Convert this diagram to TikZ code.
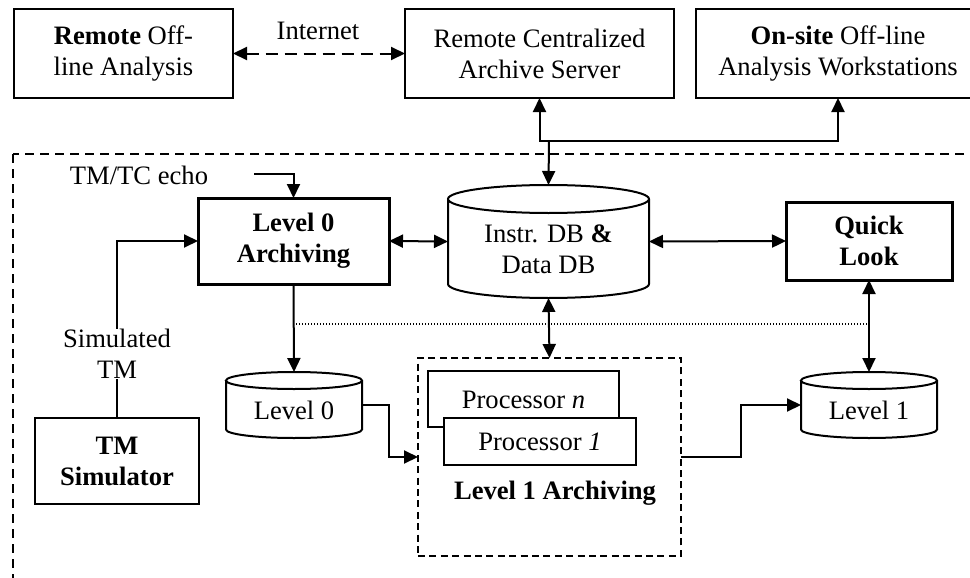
\documentclass[tikz,border=0pt]{standalone}
\usepackage{fontspec}
\setmainfont{Liberation Serif}
\usetikzlibrary{arrows.meta,calc}
\newcommand\drawcyl[3]{%
  \draw[cylline] ([yshift=-#3]#1.north west) -- ([yshift=#3]#1.south west)
    arc[start angle=180,end angle=360,x radius=#2,y radius=#3]
    -- ([yshift=-#3]#1.north east)
    arc[start angle=0,end angle=360,x radius=#2,y radius=#3];}
\newcommand\figfont{\fontsize{13.3}{15.5}\selectfont}
\begin{document}
\begin{tikzpicture}[x=0.5pt,y=-0.5pt,
  font=\figfont,
  box/.style={draw,line width=0.85pt,inner sep=0pt,outer sep=0pt,align=center},
  thickbox/.style={box,line width=1.5pt,font=\figfont\bfseries},
  procbox/.style={draw,line width=0.6pt,fill=white,inner sep=0pt,outer sep=0pt},
  cylnode/.style={inner sep=0pt,outer sep=0pt},
  cylline/.style={line width=1pt},
  txt/.style={inner sep=0pt,align=center},
  arr/.style={line width=1pt,-{Triangle[length=7pt,width=6.5pt]}},
  darr/.style={line width=1pt,{Triangle[length=7pt,width=6.5pt]}-{Triangle[length=7pt,width=6.5pt]}},
  outerdash/.style={line width=0.75pt,dash pattern=on 4.5pt off 3pt},
  innerdash/.style={line width=0.75pt,dash pattern=on 3.5pt off 2.2pt},
  dotline/.style={line width=0.6pt,dash pattern=on 0.6pt off 0.9pt},
]
\useasboundingbox (0,0) rectangle (970,578);
\clip (0,0) rectangle (970,578);

% outer dashed frame (clipped at right and bottom)
\draw[outerdash] (13,154) rectangle (1000,640);

% top row
\node[box,minimum width=109.5pt,minimum height=44.5pt] (remote) at (123.5,53.5)
  {\textbf{Remote} Off-\\line Analysis};
\node[box,minimum width=134.5pt,minimum height=44.5pt] (server) at (539.5,53.5)
  {Remote Centralized\\Archive Server};
\node[box,minimum width=142pt,minimum height=44.5pt] (onsite) at (838,53.5)
  {\textbf{On-site} Off-line\\Analysis Workstations};
\node[txt] (internet) at (318,31) {Internet};

% middle row
\node[thickbox,minimum width=95.5pt,minimum height=43pt] (l0arch) at (293.5,241)
  {Level 0\\Archiving};
\node[cylnode,minimum width=100.5pt,minimum height=56.5pt,
  label={[txt,yshift=-4pt]center:Instr. DB \textbf{\&}\\Data DB}] (db) at (548.5,241.5) {};
\drawcyl{db}{50.25pt}{7pt}
\node[thickbox,minimum width=83pt,minimum height=39pt] (ql) at (869,241)
  {Quick\\Look};

\node[txt] (echo) at (139,175) {TM/TC echo};
\coordinate (echoin) at (254,174);
\node[txt] (sim) at (117,354) {Simulated\\TM};

% bottom row
\node[box,font=\figfont\bfseries,minimum width=82pt,minimum height=43pt]
  (tmsim) at (117,461) {TM\\Simulator};
\node[cylnode,minimum width=68pt,minimum height=33pt,
  label={[txt,yshift=-2.5pt]center:Level 0}] (l0cyl) at (294,405) {};
\drawcyl{l0cyl}{34pt}{4.25pt}
\node[cylnode,minimum width=68pt,minimum height=33pt,
  label={[txt,yshift=-2.5pt]center:Level 1}] (l1cyl) at (869,405) {};
\drawcyl{l1cyl}{34pt}{4.25pt}

\node[draw,innerdash,inner sep=0pt,outer sep=0pt,minimum width=131.5pt,minimum height=99pt]
  (l1box) at (549.5,457) {};
\node[procbox,minimum width=95.5pt,minimum height=28pt] (procn) at (523.5,399) {};
\node[txt] (procntext) at (523.5,400) {Processor \textit{n}};
\node[procbox,minimum width=96pt,minimum height=23.5pt] (proc1) at (540,441.5)
  {Processor \textit{1}};
\node[txt,font=\figfont\bfseries] (l1label) at (555,493) {Level 1 Archiving};

% connectors
\draw[darr,dashed,dash pattern=on 6pt off 3.5pt] (remote.east) -- (server.west);
\coordinate (j) at (549,141);
\draw[arr] (j) -| (server.south);
\draw[arr] (j) -| (onsite.south);
\draw[arr] (j) -- (db.north);

\draw[arr] (echoin) -| (l0arch.north);
\draw[arr] (sim.north) |- (l0arch.west);
\draw[line width=1pt] (sim.south) -- (tmsim.north);

\draw[darr] (l0arch.east) -- (db.west);
\draw[darr] (db.east) -- (ql.west);
\draw[arr] (l0arch.south) -- (l0cyl.north);
\draw[darr] (db.south) -- (l1box.north);
\draw[darr] (ql.south) -- (l1cyl.north);

\coordinate (dl) at (293,324);
\coordinate (dr) at (869,324);
\draw[dotline] (dl) -- (dr);

\draw[arr] (l0cyl.east) -- ++(27,0) |- (l1box.west);
\draw[arr] (l1box.east) -- ++(60,0) |- (l1cyl.west);
\end{tikzpicture}
\end{document}
